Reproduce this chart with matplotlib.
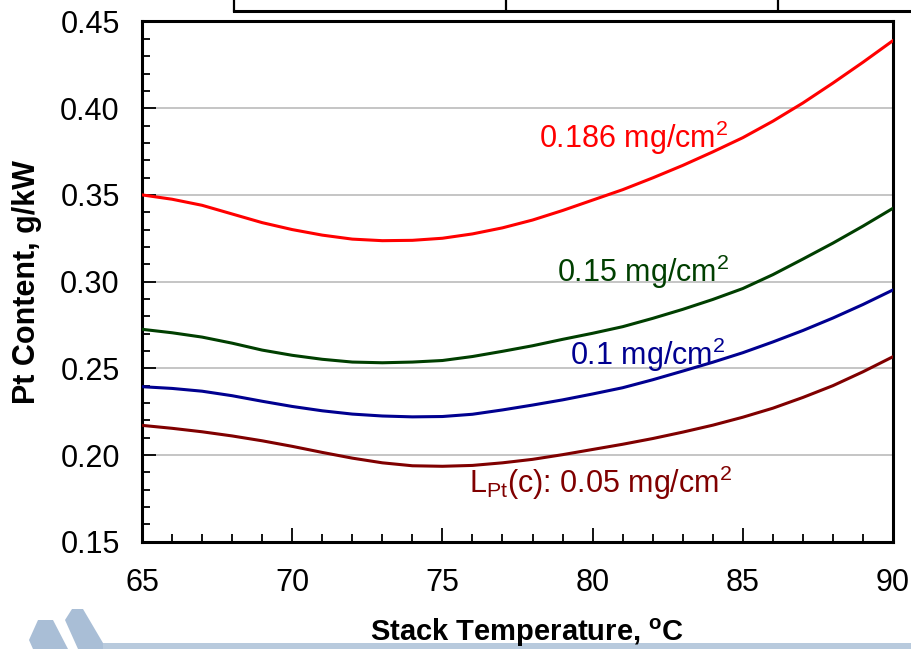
import matplotlib
matplotlib.use("Agg")
import matplotlib.pyplot as plt
from matplotlib.ticker import MultipleLocator, FormatStrFormatter
from matplotlib.patches import Polygon, Rectangle

plt.rcParams['font.family'] = ['Liberation Sans', 'DejaVu Sans']
plt.rcParams['mathtext.fontset'] = 'custom'
plt.rcParams['mathtext.rm'] = 'Liberation Sans'
plt.rcParams['mathtext.bf'] = 'Liberation Sans:bold'

# ---- data ----
temp = list(range(65, 91))

pt_186 = [0.3500, 0.3475, 0.3440, 0.3390, 0.3340, 0.3300, 0.3268, 0.3245, 0.3236,
          0.3238, 0.3250, 0.3275, 0.3310, 0.3355, 0.3410, 0.3470, 0.3530, 0.3598,
          0.3670, 0.3748, 0.3830, 0.3925, 0.4030, 0.4145, 0.4265, 0.4390]
pt_15 = [0.2725, 0.2705, 0.2680, 0.2645, 0.2605, 0.2575, 0.2552, 0.2536, 0.2532,
         0.2536, 0.2545, 0.2568, 0.2598, 0.2630, 0.2667, 0.2702, 0.2740, 0.2788,
         0.2840, 0.2897, 0.2960, 0.3040, 0.3130, 0.3222, 0.3320, 0.3423]
pt_10 = [0.2394, 0.2384, 0.2368, 0.2342, 0.2310, 0.2280, 0.2255, 0.2236, 0.2225,
         0.2220, 0.2222, 0.2235, 0.2260, 0.2288, 0.2318, 0.2352, 0.2388, 0.2434,
         0.2484, 0.2535, 0.2590, 0.2652, 0.2718, 0.2790, 0.2868, 0.2952]
pt_05 = [0.2171, 0.2154, 0.2134, 0.2110, 0.2082, 0.2050, 0.2015, 0.1982, 0.1955,
         0.1938, 0.1935, 0.1940, 0.1955, 0.1975, 0.2002, 0.2032, 0.2062, 0.2095,
         0.2132, 0.2172, 0.2218, 0.2270, 0.2332, 0.2400, 0.2480, 0.2567]

series = [
    (pt_186, '#ff0000', r'0.186 mg/cm$^2$', (78.2, 0.377)),
    (pt_15, '#003f00', r'0.15 mg/cm$^2$', (78.8, 0.300)),
    (pt_10, '#000090', r'0.1 mg/cm$^2$', (79.25, 0.252)),
    (pt_05, '#800000', r'L$_{\mathrm{Pt}}$(c): 0.05 mg/cm$^2$', (75.9, 0.178)),
]

fig = plt.figure(figsize=(9.12, 6.49), dpi=100)
ax = fig.add_axes([0.1557, 0.1653, 0.9792 - 0.1557, 0.9669 - 0.1653])

for v, c, lab, pos in series:
    ax.plot(temp, v, color=c, lw=2.2, solid_joinstyle='round', zorder=3)
    ax.text(pos[0], pos[1], lab, color=c, fontsize=22, ha='left', va='baseline')

ax.set_xlim(65, 90)
ax.set_ylim(0.15, 0.45)
ax.xaxis.set_major_locator(MultipleLocator(5))
ax.xaxis.set_minor_locator(MultipleLocator(1))
ax.yaxis.set_major_locator(MultipleLocator(0.05))
ax.yaxis.set_minor_locator(MultipleLocator(0.01))
ax.yaxis.set_major_formatter(FormatStrFormatter('%.2f'))
ax.grid(axis='y', which='major', color='#c0c0c0', lw=1.3, zorder=0)
ax.set_axisbelow(True)

ax.tick_params(which='both', direction='in', top=False, right=False, width=1.3, color='black')
ax.tick_params(which='major', length=10, labelsize=22)
ax.tick_params(which='minor', length=6)
ax.tick_params(axis='x', which='major', pad=19)
ax.tick_params(axis='y', which='major', pad=16)
for s in ax.spines.values():
    s.set_linewidth(2.2)
    s.set_color('black')

ax.set_xlabel(r'Stack Temperature, $^{\mathbf{o}}$C', fontsize=21, fontweight='bold', va='top')
ax.xaxis.set_label_coords(0.513, -0.143)
ax.set_ylabel('Pt Content, g/kW', fontsize=22, fontweight='bold', va='center')
ax.yaxis.set_label_coords(-0.153, 0.5)

# fragment of a table at the top edge
W, H = 912.0, 649.0
fig.add_artist(plt.Line2D([234 / W, 1], [1 - 11 / H, 1 - 11 / H], color='black', lw=2.2))
for xv in [234, 506, 778]:
    fig.add_artist(plt.Line2D([xv / W, xv / W], [1 - 11 / H, 1], color='black', lw=1.6))

# logo shapes at the bottom
logo = '#a9bed6'
shape1 = [(29, 640), (38, 620), (53, 620), (68, 649), (33, 649)]
shape2 = [(65, 620), (72, 609), (83, 609), (103, 643), (103, 649), (78, 649)]
for pts in [shape1, shape2]:
    fig.add_artist(Polygon([(x / W, 1 - y / H) for x, y in pts], closed=True,
                           transform=fig.transFigure, facecolor=logo, edgecolor='none'))
fig.add_artist(Rectangle((100 / W, 0), 1 - 100 / W, 6 / H, transform=fig.transFigure,
                         facecolor='#b8cadd', edgecolor='none', zorder=-1))

fig.savefig('out.png', dpi=100)
